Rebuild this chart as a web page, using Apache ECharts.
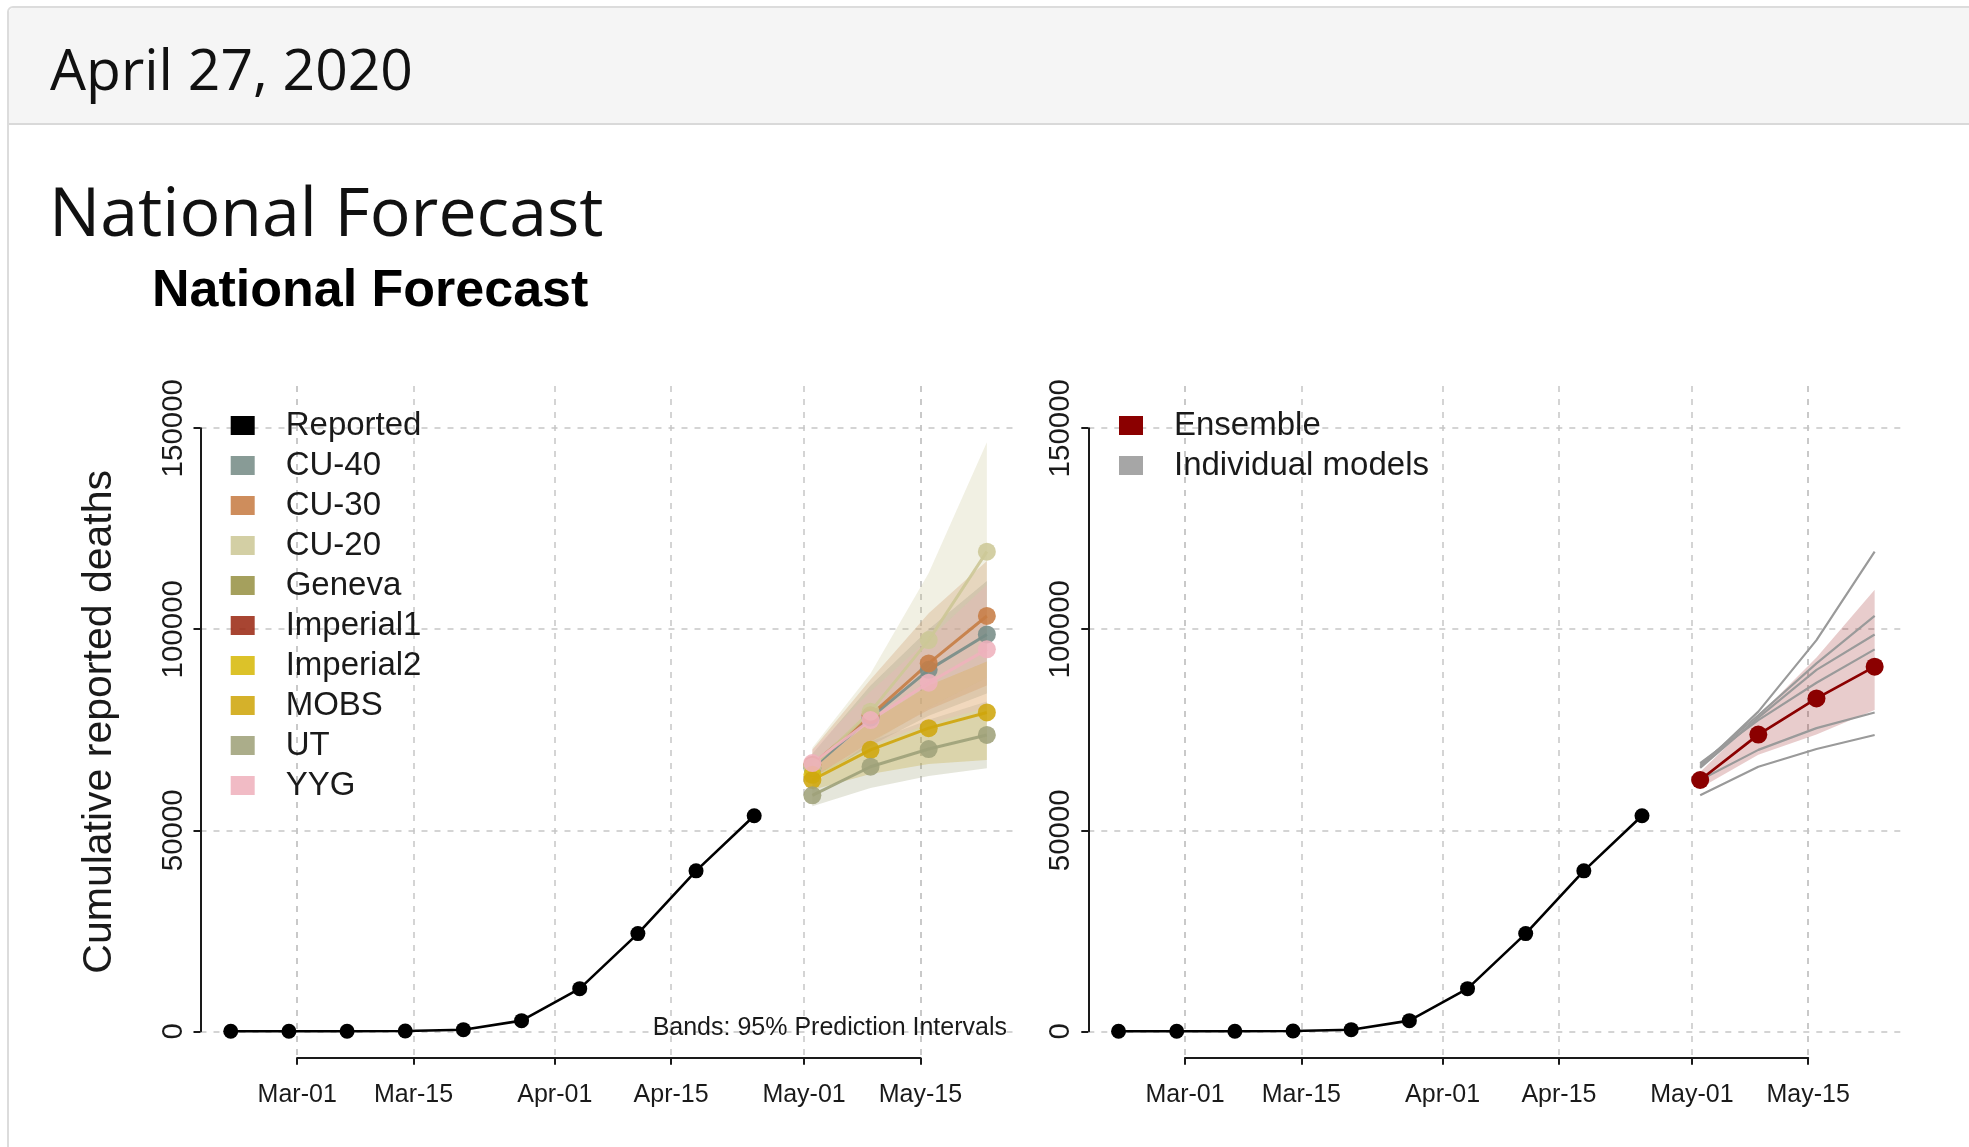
<!DOCTYPE html>
<html>
<head>
<meta charset="utf-8">
<script src="https://cdn.jsdelivr.net/npm/echarts@6/dist/echarts.min.js"></script>
<style>
html,body{margin:0;padding:0;width:1969px;height:1147px;overflow:hidden;background:#fff;}
#card{position:absolute;left:7px;top:6px;width:2100px;height:1300px;border:2px solid #dcdcdc;border-radius:6px;box-sizing:border-box;}
#hdr{position:absolute;left:9px;top:8px;width:2100px;height:115px;background:#f5f5f5;border-bottom:2px solid #d9d9d9;border-radius:5px 0 0 0;}
#date{position:absolute;left:50px;top:40px;font-family:'Open Sans',sans-serif;font-size:57px;line-height:57px;color:#111;white-space:nowrap;}
#ttl{position:absolute;left:49px;top:176px;font-family:'Open Sans',sans-serif;font-size:68px;line-height:68px;color:#111;white-space:nowrap;}
#chart{position:absolute;left:0;top:0;width:1969px;height:1147px;}
</style>
</head>
<body>
<div id="card"></div>
<div id="hdr"></div>
<div id="date">April 27, 2020</div>
<div id="ttl">National Forecast</div>
<div id="chart"></div>
<script>
// ---------------- data ----------------
const reportedDates = ['2020-02-22','2020-02-29','2020-03-07','2020-03-14','2020-03-21','2020-03-28','2020-04-04','2020-04-11','2020-04-18','2020-04-25'];
const reportedDeaths = [0, 1, 20, 60, 400, 2650, 10600, 24300, 39900, 53600];

const forecastDates = ['2020-05-02','2020-05-09','2020-05-16','2020-05-23'];

const modelNames  = ['CU-40','CU-30','CU-20','Geneva','Imperial1','Imperial2','MOBS','UT','YYG'];
const modelColors = ['#788d88','#c77d45','#cdc897','#999347','#9c2b16','#d7b90b','#cfa60c','#9fa27a','#efb2bd'];

const cu40Median = [65500, 78000, 89900, 98700];
const cu40Lower  = [62500, 71000, 78500, 84000];
const cu40Upper  = [69000, 86000, 100000, 112000];
const cu30Median = [66300, 78600, 91500, 103300];
const cu30Lower  = [63000, 72000, 80000, 86000];
const cu30Upper  = [70000, 87500, 104000, 117000];
const cu20Median = [65800, 79500, 97300, 119300];
const cu20Lower  = [62000, 71500, 80500, 88000];
const cu20Upper  = [70500, 89000, 114000, 146500];
const genevaMedian = [];
const imperial1Median = [];
const imperial2Median = [63800];
const mobsMedian = [62500, 70000, 75400, 79300];
const mobsLower  = [60000, 64000, 66500, 67500];
const mobsUpper  = [65500, 77000, 86000, 92000];
const utMedian = [58700, 65800, 70200, 73700];
const utLower  = [56000, 60500, 63500, 65400];
const utUpper  = [61500, 72000, 77500, 82000];
const yygMedian = [66700, 77400, 86700, 95000];
const yygLower  = [63500, 71000, 76500, 80500];
const yygUpper  = [70000, 84500, 97500, 111000];

const ensembleMedian = [62500, 73800, 82800, 90700];
const ensembleLower  = [60500, 68800, 73800, 79900];
const ensembleUpper  = [64500, 78500, 93000, 109800];

const xTickDates  = ['2020-03-01','2020-03-15','2020-04-01','2020-04-15','2020-05-01','2020-05-15'];
const xTickLabels = ['Mar-01','Mar-15','Apr-01','Apr-15','May-01','May-15'];
const yTickValues = [0, 50000, 100000, 150000];
const yTickLabels = ['0','50000','100000','150000'];

const modelMedians = [cu40Median, cu30Median, cu20Median, genevaMedian, imperial1Median, imperial2Median, mobsMedian, utMedian, yygMedian];
const modelLowers  = [cu40Lower, cu30Lower, cu20Lower, [], [], [], mobsLower, utLower, yygLower];
const modelUppers  = [cu40Upper, cu30Upper, cu20Upper, [], [], [], mobsUpper, utUpper, yygUpper];

// ---------------- layout ----------------
const FONT = "'Liberation Sans', Arial, Helvetica, sans-serif";
const TXT = '#1a1a1a';
const PLOT_TOP = 386, PLOT_H = 671.7, PLOT_W = 816.6;
const PANEL_LEFT = [200.5, 1088.3];
const Y_MIN = -6570, Y_MAX = 160500;

const T = s => Date.UTC(+s.slice(0,4), +s.slice(5,7)-1, +s.slice(8,10));
const firstT = T(reportedDates[0]), lastT = T(forecastDates[forecastDates.length-1]);
const padT = 0.04 * (lastT - firstT);
const X_MIN = firstT - padT, X_MAX = lastT + padT;
const xTickTimes = xTickDates.map(T);
const pair = (dates, vals) => vals.map((v,i) => [T(dates[i]), v]);
const gridLine = {show:true, lineStyle:{color:'#c6c6c6', type:[6,7], width:1.5}};

const grids = [], xAxes = [], yAxes = [];
for (let p = 0; p < 2; p++) {
  grids.push({left:PANEL_LEFT[p], top:PLOT_TOP, width:PLOT_W, height:PLOT_H, containLabel:false});
  xAxes.push({gridIndex:p, type:'time', min:X_MIN, max:X_MAX,
    axisLine:{show:false}, axisTick:{show:false, customValues:xTickTimes}, axisLabel:{show:false}, splitLine:gridLine});
  yAxes.push({gridIndex:p, type:'value', min:Y_MIN, max:Y_MAX,
    axisLine:{show:false}, axisTick:{show:false, customValues:yTickValues}, axisLabel:{show:false}, splitLine:gridLine,
    name: p === 0 ? 'Cumulative reported deaths' : '', nameLocation:'middle', nameGap:80,
    nameTextStyle:{fontSize:41, color:TXT, fontFamily:FONT, lineHeight:41}});
}

const series = [];
// left panel bands
modelNames.forEach((name, i) => {
  const lo = modelLowers[i], up = modelUppers[i];
  if (!lo.length) return;
  series.push({type:'line', xAxisIndex:0, yAxisIndex:0, stack:'band'+i, data:pair(forecastDates, lo),
    symbol:'none', lineStyle:{opacity:0}, silent:true, z:2});
  series.push({type:'line', xAxisIndex:0, yAxisIndex:0, stack:'band'+i, data:pair(forecastDates, up.map((u,k)=>u-lo[k])),
    symbol:'none', lineStyle:{opacity:0}, areaStyle:{color:modelColors[i], opacity:0.27}, silent:true, z:2});
});
// reported in both panels
for (let p = 0; p < 2; p++) {
  series.push({name:'Reported', type:'line', xAxisIndex:p, yAxisIndex:p, data:pair(reportedDates, reportedDeaths),
    color:'#000', symbol:'circle', symbolSize:15, lineStyle:{width:2.6, color:'#000'}, itemStyle:{color:'#000'}, z:6});
}
// left panel model medians
modelNames.forEach((name, i) => {
  series.push({name, type:'line', xAxisIndex:0, yAxisIndex:0, data:pair(forecastDates, modelMedians[i]),
    color:modelColors[i], symbol:'circle', symbolSize:18,
    lineStyle:{width:3, color:modelColors[i], opacity:0.9}, itemStyle:{color:modelColors[i], opacity:0.88}, z:4});
});
// right panel ensemble band
series.push({type:'line', xAxisIndex:1, yAxisIndex:1, stack:'ens', data:pair(forecastDates, ensembleLower),
  symbol:'none', lineStyle:{opacity:0}, silent:true, z:2});
series.push({type:'line', xAxisIndex:1, yAxisIndex:1, stack:'ens', data:pair(forecastDates, ensembleUpper.map((u,k)=>u-ensembleLower[k])),
  symbol:'none', lineStyle:{opacity:0}, areaStyle:{color:'#8b0000', opacity:0.2}, silent:true, z:2});
// right panel individual models
modelMedians.forEach(m => {
  if (m.length < 2) return;
  series.push({name:'Individual models', type:'line', xAxisIndex:1, yAxisIndex:1, data:pair(forecastDates, m),
    color:'#a6a6a6', symbol:'none', lineStyle:{width:2.2, color:'#9a9a9a'}, itemStyle:{color:'#a6a6a6'}, z:3});
});
series.push({name:'Ensemble', type:'line', xAxisIndex:1, yAxisIndex:1, data:pair(forecastDates, ensembleMedian),
  color:'#8b0000', symbol:'circle', symbolSize:18, lineStyle:{width:2.8, color:'#8b0000'}, itemStyle:{color:'#8b0000'}, z:5});

const legendBase = {orient:'vertical', icon:'rect', itemWidth:24, itemHeight:19, itemGap:0, padding:0, selectedMode:false,
  textStyle:{fontSize:33, lineHeight:40, color:TXT, fontFamily:FONT, padding:[0,0,0,26]}};

const titles = [
  {text:'National Forecast', left:152, top:266, padding:0,
   textStyle:{fontSize:52, lineHeight:52, fontWeight:'bold', color:'#000', fontFamily:FONT}},
  {text:'Bands: 95% Prediction Intervals', right:962, top:1016, padding:0,
   textStyle:{fontSize:25, lineHeight:25, fontWeight:'normal', color:TXT, fontFamily:FONT}}
];

const option = {
  animation:false,
  useUTC:true,
  textStyle:{fontFamily:FONT},
  title:titles,
  legend:[
    Object.assign({}, legendBase, {left:230.7, top:405.5, data:['Reported'].concat(modelNames)}),
    Object.assign({}, legendBase, {left:1119, top:405.5, data:['Ensemble','Individual models']})
  ],
  grid:grids, xAxis:xAxes, yAxis:yAxes, series
};

const chart = echarts.init(document.getElementById('chart'));
chart.setOption(option);

// R-style axes: lines that run from the first to the last tick only
const axisLineStyle = {color:'#1a1a1a', width:2};
const allGrids = grids.slice(), allX = xAxes.slice(), allY = yAxes.slice();
for (let p = 0; p < 2; p++) {
  const a = chart.convertToPixel({gridIndex:p}, [xTickTimes[0], yTickValues[yTickValues.length-1]]);
  const b = chart.convertToPixel({gridIndex:p}, [xTickTimes[xTickTimes.length-1], yTickValues[0]]);
  // x axis
  let gi = allGrids.length;
  allGrids.push({left:a[0], width:b[0]-a[0], top:PLOT_TOP + PLOT_H - 1, height:1});
  allX.push({gridIndex:gi, type:'value', min:xTickTimes[0], max:xTickTimes[xTickTimes.length-1], position:'bottom',
    axisLine:{show:true, lineStyle:axisLineStyle},
    axisTick:{show:true, length:7, customValues:xTickTimes, lineStyle:axisLineStyle},
    axisLabel:{show:true, customValues:xTickTimes, fontSize:25, color:TXT, fontFamily:FONT, margin:25,
      formatter: v => { const k = xTickTimes.indexOf(+v); return k >= 0 ? xTickLabels[k] : ''; }},
    splitLine:{show:false}});
  allY.push({gridIndex:gi, type:'value', show:false});
  // y axis
  gi = allGrids.length;
  allGrids.push({left:PANEL_LEFT[p], width:1, top:a[1], height:b[1]-a[1]});
  allX.push({gridIndex:gi, type:'value', show:false});
  allY.push({gridIndex:gi, type:'value', min:yTickValues[0], max:yTickValues[yTickValues.length-1], position:'left',
    axisLine:{show:true, lineStyle:axisLineStyle},
    axisTick:{show:true, length:7, customValues:yTickValues, lineStyle:axisLineStyle},
    axisLabel:{show:true, customValues:yTickValues, rotate:90, fontSize:29.5, color:TXT, fontFamily:FONT, margin:12,
      formatter: v => { const k = yTickValues.indexOf(+v); return k >= 0 ? yTickLabels[k] : ''; }},
    splitLine:{show:false}});
}
chart.setOption({grid:allGrids, xAxis:allX, yAxis:allY});
</script>
</body>
</html>
